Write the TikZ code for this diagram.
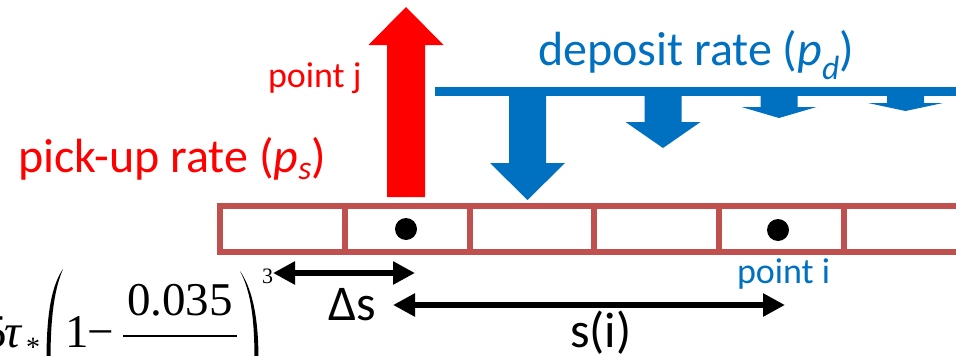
\documentclass[tikz,border=0pt]{standalone}
\usepackage{fontspec}
\setmainfont{Carlito}
\newfontfamily\timesf{Liberation Serif}
\usetikzlibrary{arrows.meta}
\definecolor{pickred}{HTML}{FF0000}
\definecolor{depblue}{HTML}{0070C0}
\definecolor{boxred}{HTML}{C0504D}
\tikzset{
  lbl/.style={inner sep=0pt, outer sep=0pt, anchor=base west},
  bigtxt/.style={font=\fontsize{48}{52}\selectfont},
  midtxt/.style={font=\fontsize{36}{40}\selectfont},
  meastxt/.style={font=\fontsize{50}{54}\selectfont},
  formtxt/.style={font=\timesf\fontsize{47}{50}\selectfont},
  cell/.style={draw=boxred, line width=6pt, minimum width=124.8pt, minimum height=46pt, inner sep=0pt, outer sep=0pt},
  dimarrow/.style={line width=6.5pt, {Triangle[length=22pt,width=22pt]}-{Triangle[length=22pt,width=22pt]}},
  dot/.style={circle, fill=black, minimum size=22pt, inner sep=0pt}
}
\newcommand\bdarrow[4]{% centre x, top y, head base y, tip y
  \fill[depblue] ({#1-18.5},#2) -- ({#1+18.5},#2) -- ({#1+18.5},#3) -- ({#1+37.5},#3)
    -- (#1,#4) -- ({#1-37.5},#3) -- ({#1-18.5},#3) -- cycle;}
\begin{document}
\begin{tikzpicture}[x=1pt,y=-1pt]
\useasboundingbox (0,0) rectangle (956,356);
\clip (0,0) rectangle (956,356);

% cells
\foreach \i in {1,...,7}{
  \node[cell] (cell\i) at ({220+124.8*(\i-1)+62.4},229) {};
}
\node[dot] (dotj) at (406,229) {};
\node[dot] (doti) at (778,230) {};

% red pick-up arrow
\fill[pickred] (387,197) -- (425,197) -- (425,45) -- (443.5,45) -- (406,7) -- (368.5,45) -- (387,45) -- cycle;

% blue deposit bar and arrows
\fill[depblue] (435,87) rectangle (960,96);
\bdarrow{527.5}{92}{163}{200}
\bdarrow{663}{92}{122}{148}
\bdarrow{779}{92}{107}{118}
\bdarrow{905.5}{92}{103}{111}

% labels
\node[lbl, bigtxt, text=depblue] (deplbl) at (538,65) {deposit rate (\textit{p}\textsubscript{\textit{d}})};
\node[lbl, bigtxt, text=pickred] (picklbl) at (18,172) {pick-up rate (\textit{p}\textsubscript{\textit{s}})};
\node[lbl, midtxt, text=pickred] (ptj) at (268,87) {point j};
\node[lbl, midtxt, text=depblue] (pti) at (737,283) {point i};

% measurement arrows
\coordinate (ds1) at (273,273);
\coordinate (ds2) at (415,273);
\coordinate (si1) at (393,305);
\coordinate (si2) at (785,305);
\draw[dimarrow] (ds1) -- (ds2);
\draw[dimarrow] (si1) -- (si2);
\node[lbl, meastxt] (dslbl) at (328,320) {Δs};
\node[lbl, meastxt] (silbl) at (570,347) {s(i)};

% partial formula
\node[formtxt, inner sep=0pt, anchor=base east] (five) at (7,347) {5};
\node[formtxt, inner sep=0pt, anchor=base west] (tau) at (4,347) {\textit{τ}};
\node[inner sep=0pt, anchor=base west, font=\timesf\fontsize{28}{30}\selectfont] (star) at (26,356) {*};
\fill (63,269) .. controls (52,285) and (46.5,312) .. (46.5,360) -- (50.5,360) .. controls (50.5,314) and (55,288) .. (63,269) -- cycle;
\fill (240,271) .. controls (251,287) and (258.5,313) .. (258.5,360) -- (254.5,360) .. controls (254.5,315) and (250,290) .. (240,271) -- cycle;
\node[formtxt, inner sep=0pt, anchor=base west] (one) at (65,347) {1};
\node[formtxt, inner sep=0pt, anchor=base west] (minus) at (87,347) {−};
\node[formtxt, inner sep=0pt, anchor=base west] (num) at (127,315) {0.035};
\draw[line width=2pt] (123,336) -- (237,336);
\node[inner sep=0pt, anchor=base west, font=\timesf\fontsize{22}{24}\selectfont] (expo) at (262,283) {3};
\end{tikzpicture}
\end{document}
